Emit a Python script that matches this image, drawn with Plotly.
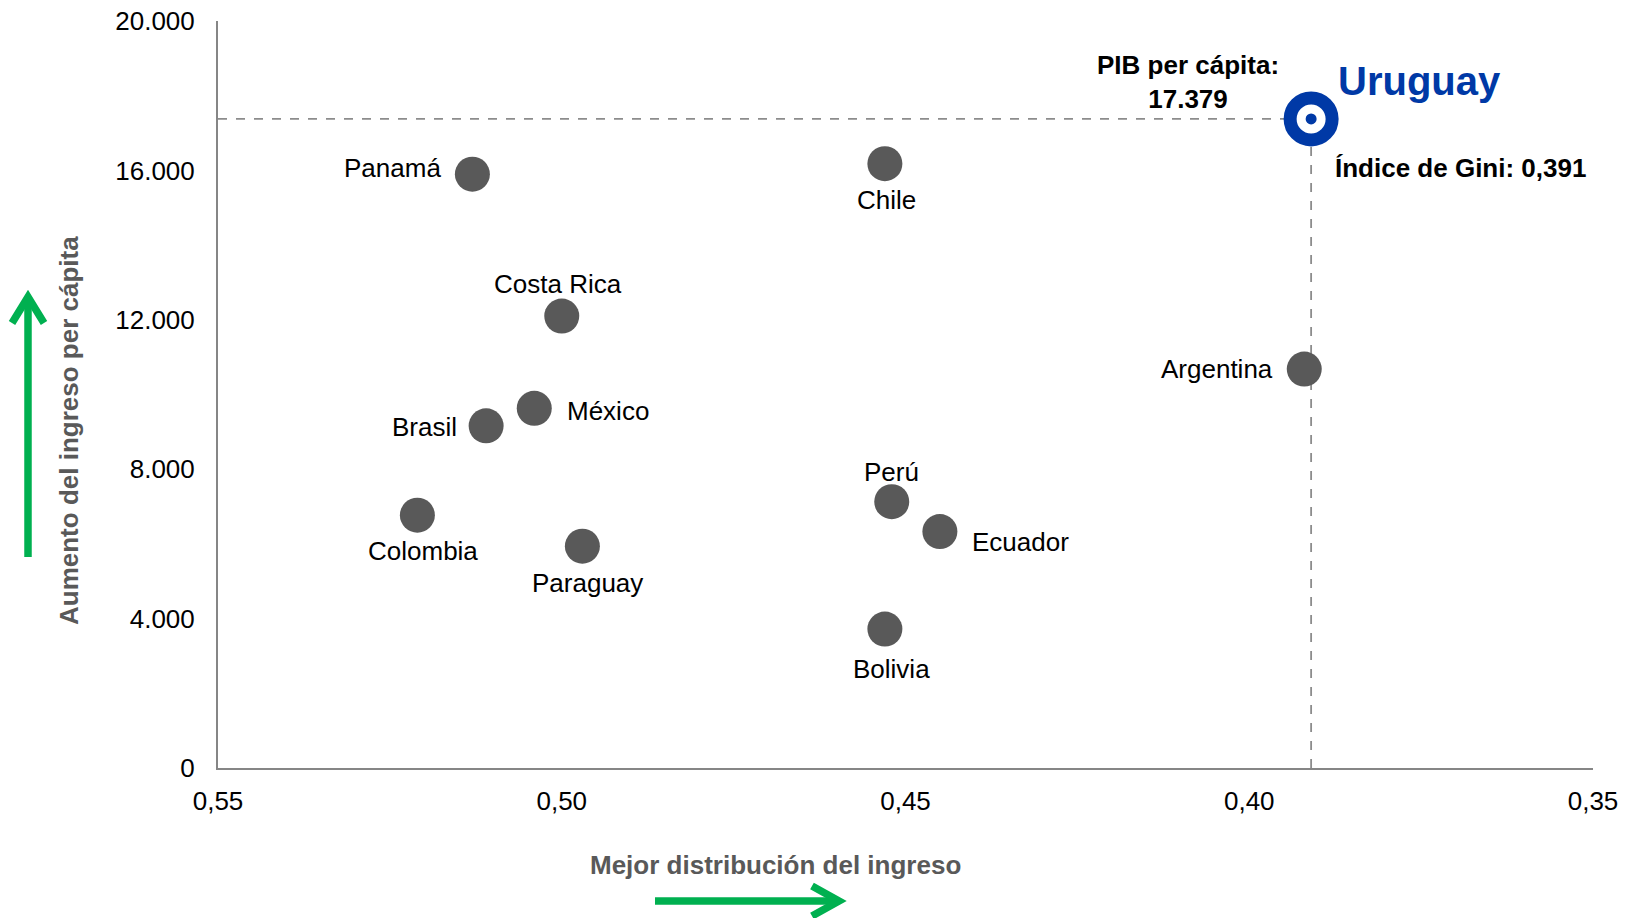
import plotly.graph_objects as go

# Gini index (x) and GDP per capita (y) by country
countries = ["Panamá", "Chile", "Costa Rica", "México", "Brasil", "Colombia",
             "Paraguay", "Perú", "Ecuador", "Bolivia", "Argentina"]
gini = [0.513, 0.453, 0.500, 0.504, 0.511, 0.521, 0.497, 0.452, 0.445, 0.453, 0.392]
gdp_pc = [15900, 16180, 12100, 9630, 9160, 6770, 5940, 7130, 6330, 3720, 10680]

uy_name = "Uruguay"
uy_gini = 0.391
uy_gdp = 17379

x_ticks = [0.55, 0.50, 0.45, 0.40, 0.35]
y_ticks = [0, 4000, 8000, 12000, 16000, 20000]

# label placement: (xanchor, xshift, yshift) in pixels relative to the dot
label_pos = {
    "Panamá": ("right", -29, 6),
    "Chile": ("center", 2, -36),
    "Costa Rica": ("center", -4, 32),
    "México": ("left", 31, -3),
    "Brasil": ("right", -27, -1),
    "Colombia": ("center", 6, -36),
    "Paraguay": ("center", 5, -37),
    "Perú": ("center", 0, 30),
    "Ecuador": ("left", 30, -10),
    "Bolivia": ("center", 7, -40),
    "Argentina": ("right", -29, 0),
}

FONT = "Arial, Liberation Sans, sans-serif"
W, H = 1625, 918
L, R, T, B = 218, 32, 21, 150
PW, PH = W - L - R, H - T - B
BLUE = "#0039A6"
GREEN = "#00B050"
DOT = "#595959"
AXIS = "#868686"


def px(xp):
    return (xp - L) / PW


def py(yp):
    return (H - B - yp) / PH


fig = go.Figure()

# reference lines through Uruguay
fig.add_trace(go.Scatter(x=[x_ticks[0], uy_gini], y=[uy_gdp, uy_gdp], mode="lines",
                         line=dict(color="#8C8C8C", width=1.8, dash="dash"),
                         hoverinfo="skip", showlegend=False))
fig.add_trace(go.Scatter(x=[uy_gini, uy_gini], y=[0, uy_gdp], mode="lines",
                         line=dict(color="#8C8C8C", width=1.8, dash="dash"),
                         hoverinfo="skip", showlegend=False))

# countries
fig.add_trace(go.Scatter(x=gini, y=gdp_pc, mode="markers", text=countries,
                         marker=dict(size=35, color=DOT, line=dict(width=0)),
                         showlegend=False))

# Uruguay target marker
fig.add_trace(go.Scatter(x=[uy_gini], y=[uy_gdp], mode="markers",
                         marker=dict(size=42, color="white", line=dict(color=BLUE, width=13)),
                         showlegend=False))
fig.add_trace(go.Scatter(x=[uy_gini], y=[uy_gdp], mode="markers",
                         marker=dict(size=11, color=BLUE, line=dict(width=0)),
                         showlegend=False))

annotations = []
for name, xv, yv in zip(countries, gini, gdp_pc):
    anchor, xs, ys = label_pos[name]
    annotations.append(dict(x=xv, y=yv, xref="x", yref="y", text=name, showarrow=False,
                            xanchor=anchor, yanchor="middle", xshift=xs, yshift=ys,
                            font=dict(family=FONT, size=26, color="black")))

annotations += [
    dict(x=uy_gini, y=uy_gdp, xref="x", yref="y", text="<b>" + uy_name + "</b>",
         showarrow=False, xanchor="left", yanchor="middle", xshift=25, yshift=38,
         font=dict(family=FONT, size=40, color=BLUE)),
    dict(x=uy_gini, y=uy_gdp, xref="x", yref="y",
         text="<b>PIB per cápita:<br>" + f"{uy_gdp:,}".replace(",", ".") + "</b>",
         showarrow=False, xanchor="center", yanchor="middle", xshift=-123, yshift=37,
         align="center", font=dict(family=FONT, size=26, color="black")),
    dict(x=uy_gini, y=uy_gdp, xref="x", yref="y",
         text="<b>Índice de Gini: " + f"{uy_gini:.3f}".replace(".", ",") + "</b>",
         showarrow=False, xanchor="left", yanchor="middle", xshift=22, yshift=-49,
         font=dict(family=FONT, size=26, color="black")),
    # axis titles
    dict(x=px(69), y=py(431), xref="paper", yref="paper",
         text="<b>Aumento del ingreso per cápita</b>", textangle=-90, showarrow=False,
         xanchor="center", yanchor="middle", font=dict(family=FONT, size=26, color=DOT)),
    dict(x=px(775), y=py(865), xref="paper", yref="paper",
         text="<b>Mejor distribución del ingreso</b>", showarrow=False,
         xanchor="center", yanchor="middle", font=dict(family=FONT, size=26, color=DOT)),
]

arrow_line = dict(color=GREEN, width=7.5)
shapes = [
    # vertical arrow
    dict(type="line", xref="paper", yref="paper", x0=px(28), x1=px(28), y0=py(557), y1=py(298),
         line=arrow_line),
    dict(type="path", xref="paper", yref="paper",
         path=f"M{px(12)},{py(323)} L{px(28)},{py(297)} L{px(44)},{py(323)}",
         line=arrow_line),
    # horizontal arrow
    dict(type="line", xref="paper", yref="paper", x0=px(655), x1=px(838), y0=py(901), y1=py(901),
         line=arrow_line),
    dict(type="path", xref="paper", yref="paper",
         path=f"M{px(812)},{py(886)} L{px(839)},{py(901)} L{px(812)},{py(916)}",
         line=arrow_line),
]

fig.update_layout(
    width=W, height=H, autosize=False,
    margin=dict(l=L, r=R, t=T, b=B, pad=0, autoexpand=False),
    paper_bgcolor="white", plot_bgcolor="white",
    separators=",.",
    font=dict(family=FONT, size=26, color="black"),
    annotations=annotations, shapes=shapes,
    showlegend=False,
)
fig.update_xaxes(range=[0.55, 0.35], tickvals=x_ticks, tickformat=".2f",
                 showgrid=False, zeroline=False, showline=True, linecolor=AXIS, linewidth=2,
                 ticks="", ticklabelstandoff=9, automargin=False,
                 tickfont=dict(family=FONT, size=26, color="black"))
fig.update_yaxes(range=[0, 20000], tickvals=y_ticks, tickformat=",d",
                 showgrid=False, zeroline=False, showline=True, linecolor=AXIS, linewidth=2,
                 ticks="", ticklabelstandoff=16, automargin=False,
                 tickfont=dict(family=FONT, size=26, color="black"))

fig.write_html("out.html")
